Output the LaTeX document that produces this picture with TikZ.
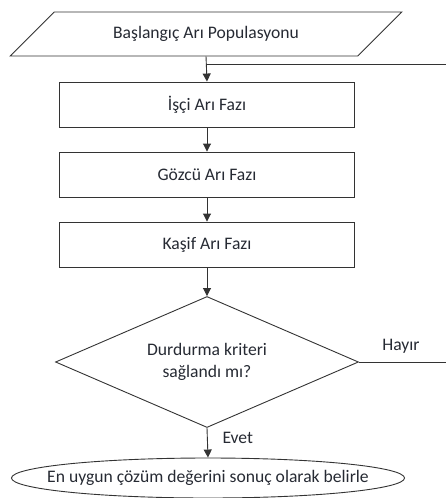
\documentclass[tikz,border=0pt]{standalone}
\usepackage{fontspec}
\setmainfont{Carlito}
\usetikzlibrary{shapes.geometric,arrows.meta,positioning}
\definecolor{ink}{HTML}{333333}
\definecolor{txt}{HTML}{262A33}
\tikzset{
  io/.style={trapezium,draw=ink,line width=0.9pt,trapezium stretches=true,
    trapezium left angle=29.4,trapezium right angle=150.6,
    minimum width=392pt,minimum height=44pt,inner sep=0pt},
  phase/.style={rectangle,draw=ink,line width=0.9pt,minimum width=295pt,minimum height=45pt},
  cond/.style={diamond,draw=ink,line width=0.9pt,minimum width=303pt,minimum height=131pt,
    aspect=2.3,align=center,inner sep=0pt},
  term/.style={ellipse,draw=ink,line width=0.9pt,minimum width=393pt,minimum height=40pt,
    inner xsep=-40pt,inner ysep=0pt},
  flow/.style={ink,line width=0.9pt,-{Triangle[length=8pt,width=8pt]}},
  link/.style={ink,line width=0.9pt},
  lbl/.style={text=txt,font=\fontsize{17.6}{22}\selectfont},
}
\begin{document}
\begin{tikzpicture}[x=1pt,y=-1pt,every node/.append style={lbl}]
  \useasboundingbox (0,0) rectangle (445,498);
  \node[io] (start) at (206,34) {Başlangıç Arı Populasyonu};
  \node[phase] (worker) at (207,104.5) {İşçi Arı Fazı};
  \node[phase] (onlook) at (207,174.5) {Gözcü Arı Fazı};
  \node[phase] (scout) at (207,244.5) {Kaşif Arı Fazı};
  \node[cond] (stop) at (207,362) {Durdurma kriteri\\ sağlandı mı?};
  \node[term] (best) at (208,478) {En uygun çözüm değerini sonuç olarak belirle};
  \coordinate (join) at (207,64);
  \coordinate (loopend) at (446,64);
  \coordinate (noend) at (446,362);
  \draw[flow] (start.south) -- (worker.north);
  \draw[flow] (worker) -- (onlook);
  \draw[flow] (onlook) -- (scout);
  \draw[flow] (scout) -- (stop.north);
  \draw[flow] (stop.south) -- (best.north);
  \draw[link] (join) -- (loopend);
  \draw[link] (stop.east) -- (noend);
  \node[anchor=south] (no) at (401,357) {Hayır};
  \node[anchor=west] (yes) at (219,438) {Evet};
\end{tikzpicture}
\end{document}
